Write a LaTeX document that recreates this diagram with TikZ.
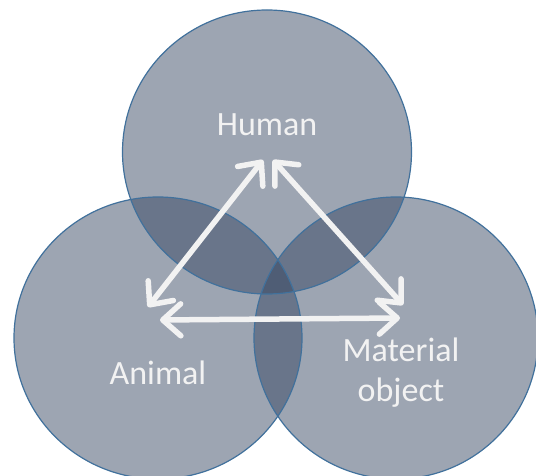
\documentclass[tikz,border=0pt]{standalone}
\usepackage{fontspec}
\setmainfont{Carlito}
\usetikzlibrary{arrows.meta}
\definecolor{circfill}{RGB}{50,66,94}
\definecolor{circline}{RGB}{65,113,156}
\definecolor{arrowwhite}{RGB}{242,242,242}
\tikzset{
  setfill/.style={fill=circfill, fill opacity=0.48},
  setline/.style={draw=circline, line width=1.2pt},
  label/.style={text=arrowwhite, font=\fontsize{34}{40}\selectfont, align=center, inner sep=0pt},
  rel/.style={draw=arrowwhite, line width=5.5pt, line cap=round,
    {Straight Barb[length=18pt,width=32pt,round]}-{Straight Barb[length=18pt,width=32pt,round]}}
}
\begin{document}
\begin{tikzpicture}[x=1pt,y=1pt]
\useasboundingbox (0,0) rectangle (536,476);
% fills
\fill[setfill] (267,324) ellipse [x radius=144.5, y radius=142];
\fill[setfill] (158,138) ellipse [x radius=144, y radius=141];
\fill[setfill] (396,138) ellipse [x radius=142, y radius=141];
% outlines
\draw[setline] (267,324) ellipse [x radius=144.5, y radius=142];
\draw[setline] (158,138) ellipse [x radius=144, y radius=141];
\draw[setline] (396,138) ellipse [x radius=142, y radius=141];
% labels
\node[label] (human) at (267,351) {Human};
\node[label] (animal) at (158,103) {Animal};
\node[label] (material) at (401,103) {Material\\object};
% arrow ends
\coordinate (hL) at (263,316);
\coordinate (aT) at (148,169);
\coordinate (hR) at (273,316);
\coordinate (mT) at (403,171);
\coordinate (aR) at (160,156);
\coordinate (mL) at (400,158);
\draw[rel] (aT) -- (hL);
\draw[rel] (hR) -- (mT);
\draw[rel] (aR) -- (mL);
\end{tikzpicture}
\end{document}
